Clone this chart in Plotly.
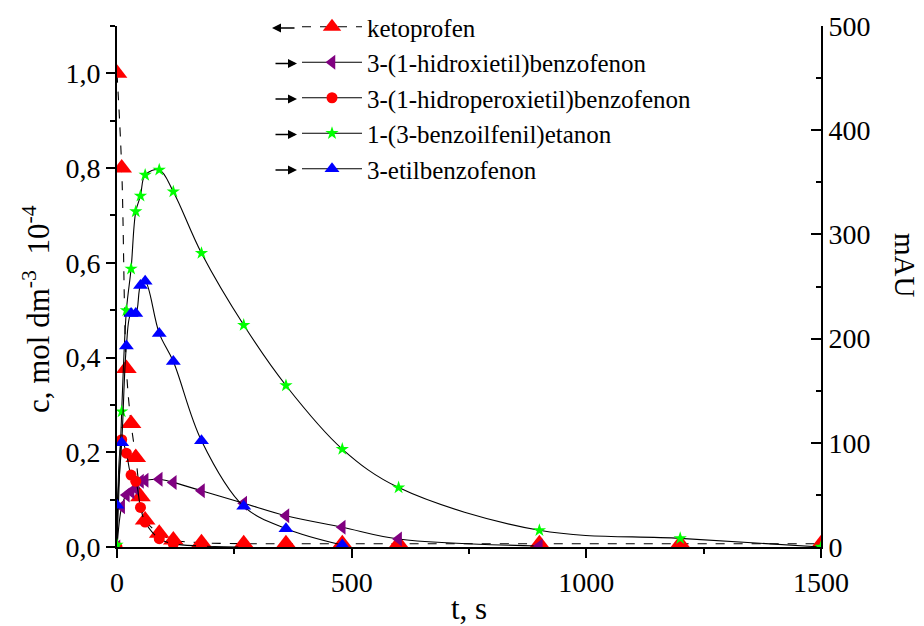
import plotly.graph_objects as go

# sampling times, s
t = [0, 10, 20, 30, 40, 50, 60, 90, 120, 180, 270, 360, 480, 600, 900, 1200, 1500]

# ketoprofen concentration, mol dm-3 10-4 (left axis)
keto_c = [1.0, 0.80, 0.377, 0.261, 0.189, 0.106, 0.057, 0.029, 0.015, 0.009,
          0.007, 0.007, 0.007, 0.007, 0.007, 0.007, 0.007]

# photoproduct signals, mAU (right axis)
hidroxi_t = [0, 10, 20, 30, 40, 50, 60, 90, 120, 180, 270, 360, 480, 600, 900]
hidroxi_mau = [0, 38.7, 50, 53, 56, 63, 64, 65, 62, 54, 42, 30, 19, 7.7, 1]

perox_t = [0, 10, 20, 30, 40, 50, 60, 90, 120, 180, 270]
perox_mau = [0, 103, 90, 69, 63, 38, 24, 8, 3, 1, 0]

benzoil_t = t
benzoil_mau = [2, 130, 227, 267, 322, 337, 357, 362, 341, 282, 213, 155, 94, 57, 16, 8.3, 0]

etil_t = [0, 10, 20, 30, 40, 50, 60, 90, 120, 180, 270, 360, 480]
etil_mau = [40, 100, 193, 224, 224, 251, 255, 205, 178, 102, 39, 17.6, 1.9]

FONT = "Liberation Serif, Times New Roman, serif"
LINE = dict(color="black", width=1.1, shape="spline", smoothing=1.0)

fig = go.Figure()

fig.add_trace(go.Scatter(
    x=t, y=keto_c, name="ketoprofen", mode="lines+markers",
    line=dict(LINE, dash="dash"),
    marker=dict(symbol="triangle-up", size=18, color="#ff0000"),
    yaxis="y"))

fig.add_trace(go.Scatter(
    x=hidroxi_t, y=hidroxi_mau, name="3-(1-hidroxietil)benzofenon", mode="lines+markers",
    line=LINE, marker=dict(symbol="triangle-left", size=13, color="#800080"),
    yaxis="y2"))

fig.add_trace(go.Scatter(
    x=perox_t, y=perox_mau, name="3-(1-hidroperoxietil)benzofenon", mode="lines+markers",
    line=LINE, marker=dict(symbol="circle", size=11, color="#ff0000"),
    yaxis="y2"))

fig.add_trace(go.Scatter(
    x=benzoil_t, y=benzoil_mau, name="1-(3-benzoilfenil)etanon", mode="lines+markers",
    line=LINE, marker=dict(symbol="star", size=10, color="#00ff00"),
    yaxis="y2"))

fig.add_trace(go.Scatter(
    x=etil_t, y=etil_mau, name="3-etilbenzofenon", mode="lines+markers",
    line=LINE, marker=dict(symbol="triangle-up", size=13, color="#0000ff"),
    yaxis="y2"))

W, H = 924, 626
L, R, T, B = 117, 103, 26, 79
PW, PH = W - L - R, H - T - B


def px_to_paper(px, py):
    return (px - L) / PW, (H - B - py) / PH


axis_common = dict(
    showline=True, linecolor="black", linewidth=2, showgrid=False, zeroline=False,
    tickcolor="black", tickwidth=2,
    tickfont=dict(family=FONT, size=28, color="black"),
)

LEG_FONT = 25
LEG_TOP = 4
leg_x, leg_y = px_to_paper(297, LEG_TOP)

fig.update_layout(
    width=W, height=H,
    margin=dict(l=L, r=R, t=T, b=B, autoexpand=False),
    paper_bgcolor="white", plot_bgcolor="white",
    separators=",.",
    font=dict(family=FONT, color="black"),
    xaxis=dict(axis_common, range=[0, 1500], dtick=500, ticks="outside", ticklen=9,
               minor=dict(dtick=250, ticks="outside", ticklen=5, tickwidth=2, tickcolor="black"),
               title=dict(text="t, s", font=dict(family=FONT, size=31), standoff=6)),
    yaxis=dict(axis_common, range=[0, 1.1], dtick=0.2, tickformat=".1f",
               ticks="outside", ticklen=9,
               minor=dict(dtick=0.1, ticks="outside", ticklen=5, tickwidth=2, tickcolor="black")),
    yaxis2=dict(axis_common, range=[0, 500], dtick=100, overlaying="y", side="right",
                ticks="inside", ticklen=10,
                minor=dict(dtick=50, ticks="inside", ticklen=5, tickwidth=2, tickcolor="black")),
    legend=dict(x=leg_x, y=leg_y, xanchor="left", yanchor="top",
                bgcolor="rgba(0,0,0,0)", borderwidth=0,
                font=dict(family=FONT, size=LEG_FONT, color="black"),
                itemwidth=60, tracegroupgap=0),
    showlegend=True,
)

# axis titles
lx, ly = px_to_paper(36, 309)
fig.add_annotation(xref="paper", yref="paper", x=lx, y=ly, xanchor="center", yanchor="middle",
                   showarrow=False,
                   text="c, mol&nbsp;dm<sup>-3</sup>&nbsp; 10<sup>-4</sup>", textangle=-90,
                   font=dict(family=FONT, size=31, color="black"))
rx, ry = px_to_paper(905, 265)
fig.add_annotation(xref="paper", yref="paper", x=rx, y=ry, xanchor="center", yanchor="middle",
                   showarrow=False,
                   text="mAU", textangle=90,
                   font=dict(family=FONT, size=29, color="black"))

# legend arrows: ketoprofen belongs to the left axis, the rest to the right axis
row_h = LEG_FONT * 1.3 + 3
arrow_dirs = ["left", "right", "right", "right", "right"]
for i, direction in enumerate(arrow_dirs):
    ry_px = LEG_TOP + 24 + row_h * i
    if direction == "left":
        tip, tail = 272, 296
    else:
        tip, tail = 297, 274
    ax_, ay_ = px_to_paper(tip, ry_px)
    fig.add_annotation(xref="paper", yref="paper", x=ax_, y=ay_,
                       ax=tail - tip, ay=0, showarrow=True, text="",
                       arrowhead=2, arrowsize=1.2, arrowwidth=1.5, arrowcolor="black")

fig.write_html("out.html")
